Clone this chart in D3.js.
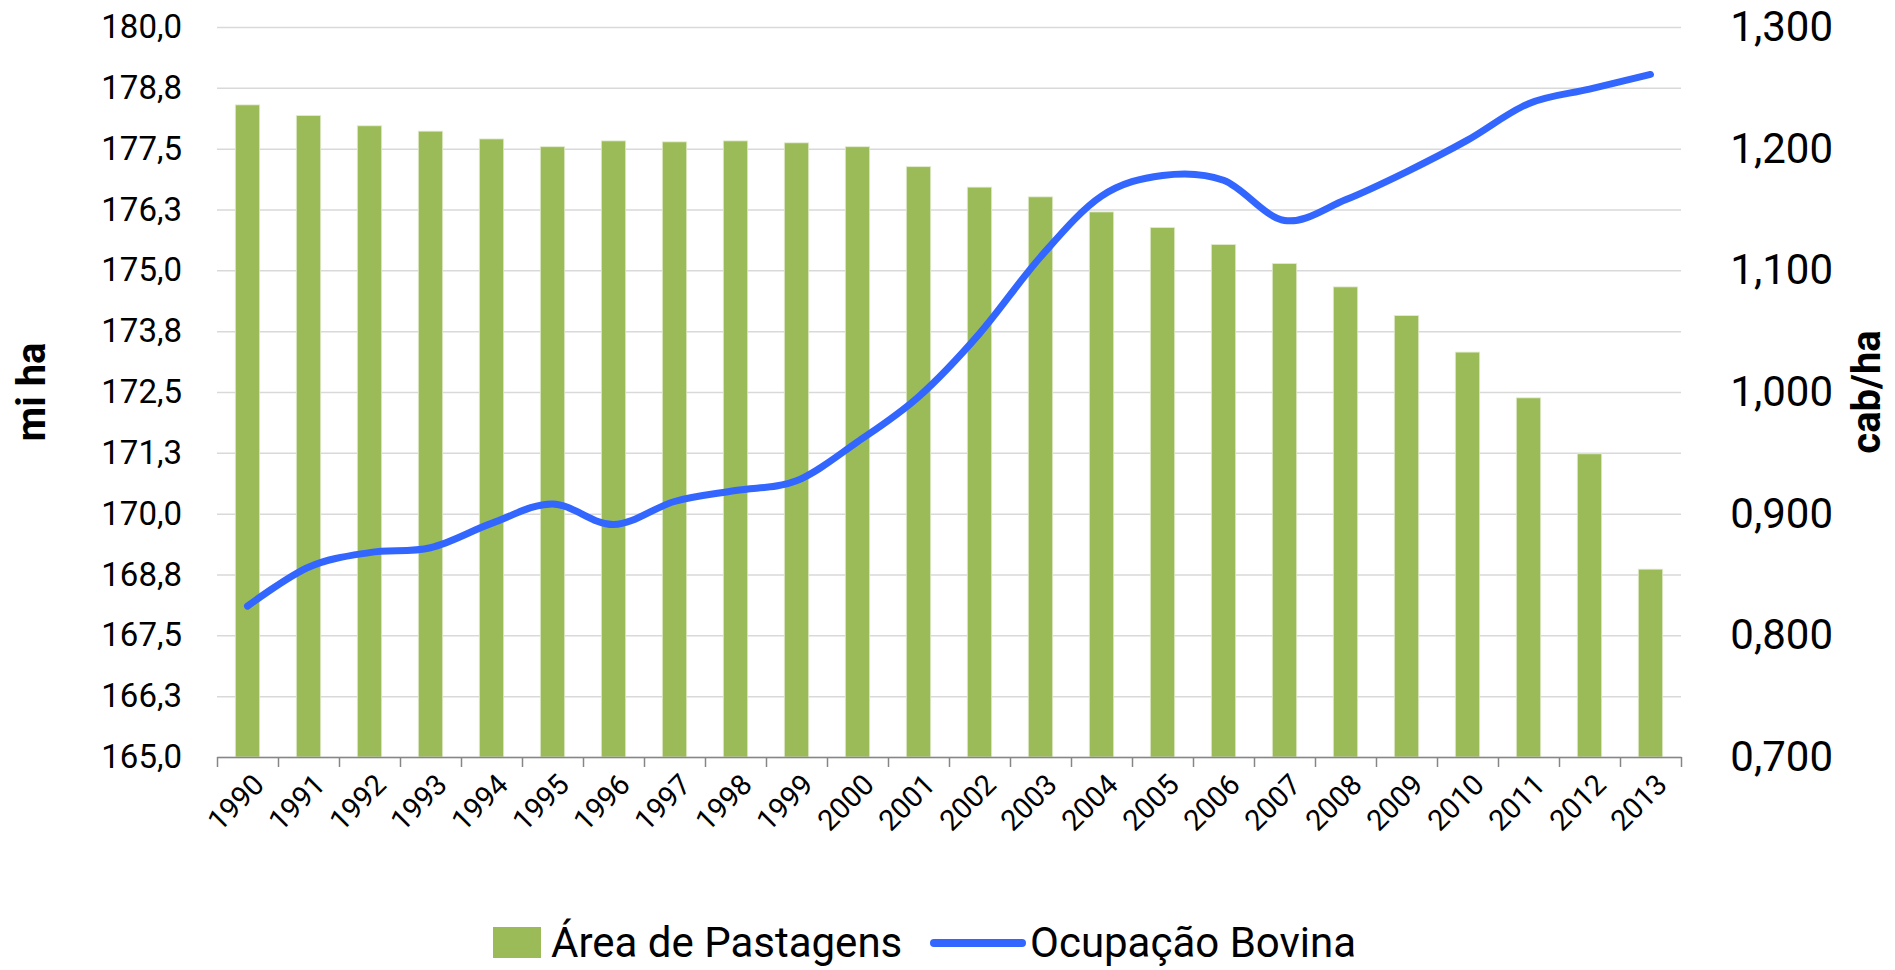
<!DOCTYPE html>
<html lang="pt">
<head>
  <meta charset="UTF-8">
  <title>Área de Pastagens e Ocupação Bovina</title>
  <script src="https://cdn.jsdelivr.net/npm/d3@7"></script>
  <style>
    body {
      margin: 0;
      background-color: #fff;
      font-family: Roboto, "Open Sans", sans-serif;
    }
    .grid line {
      stroke: #d9d9d9;
      stroke-width: 1.5;
    }
    .tick-label {
      fill: #000;
    }
  </style>
</head>
<body>
  <div id="chart"></div>
  <script>
    // Data
    const years = ["1990", "1991", "1992", "1993", "1994", "1995", "1996", "1997", "1998", "1999", "2000", "2001",
                   "2002", "2003", "2004", "2005", "2006", "2007", "2008", "2009", "2010", "2011", "2012", "2013"];
    const areaPastagens = [178.40, 178.18, 177.97, 177.86, 177.70, 177.54, 177.66, 177.64, 177.66, 177.62, 177.54, 177.13,
                           176.71, 176.51, 176.20, 175.88, 175.53, 175.14, 174.66, 174.07, 173.32, 172.38, 171.23, 168.86];
    const ocupacaoBovina = [0.824, 0.856, 0.868, 0.872, 0.892, 0.908, 0.891, 0.910, 0.919, 0.927, 0.959, 0.996,
                            1.048, 1.111, 1.161, 1.178, 1.174, 1.141, 1.158, 1.181, 1.207, 1.237, 1.249, 1.261];
    const leftTicks = [165, 166.25, 167.5, 168.75, 170, 171.25, 172.5, 173.75, 175, 176.25, 177.5, 178.75, 180];
    const leftTickLabels = ["165,0", "166,3", "167,5", "168,8", "170,0", "171,3", "172,5", "173,8", "175,0", "176,3", "177,5", "178,8", "180,0"];
    const rightTicks = [0.7, 0.8, 0.9, 1.0, 1.1, 1.2, 1.3];
    const rightTickLabels = ["0,700", "0,800", "0,900", "1,000", "1,100", "1,200", "1,300"];
    const seriesNames = ["Área de Pastagens", "Ocupação Bovina"];

    const W = 1895, H = 970;
    const plot = { left: 217, right: 1681, top: 27, bottom: 757 };
    const barColor = "#9bbb59";
    const lineColor = "#3366ff";

    const svg = d3.select("#chart")
      .append("svg")
      .attr("width", W)
      .attr("height", H);

    const x = d3.scaleBand()
      .domain(years)
      .range([plot.left, plot.right])
      .paddingInner(0.6)
      .paddingOuter(0.3);

    const yLeft = d3.scaleLinear()
      .domain([165, 180])
      .range([plot.bottom, plot.top]);

    const yRight = d3.scaleLinear()
      .domain([0.7, 1.3])
      .range([plot.bottom, plot.top]);

    // gridlines
    svg.append("g")
      .attr("class", "grid")
      .attr("transform", `translate(${plot.left},0)`)
      .call(d3.axisLeft(yLeft).tickValues(leftTicks).tickSize(-(plot.right - plot.left)).tickFormat(""))
      .call(g => g.select(".domain").remove());

    // left axis labels
    svg.append("g")
      .attr("transform", `translate(182,0)`)
      .call(d3.axisLeft(yLeft).tickValues(leftTicks).tickSize(0).tickPadding(0)
        .tickFormat((d, i) => leftTickLabels[i]))
      .call(g => g.select(".domain").remove())
      .call(g => g.selectAll("text")
        .attr("class", "tick-label")
        .style("font-family", "Roboto")
        .style("font-size", "33px"));

    // right axis labels
    svg.append("g")
      .attr("transform", `translate(1833,0)`)
      .call(d3.axisLeft(yRight).tickValues(rightTicks).tickSize(0).tickPadding(0)
        .tickFormat((d, i) => rightTickLabels[i]))
      .call(g => g.select(".domain").remove())
      .call(g => g.selectAll("text")
        .attr("class", "tick-label")
        .style("font-family", "Roboto")
        .style("font-size", "42px"));

    // bars
    svg.append("g")
      .selectAll("rect")
      .data(areaPastagens)
      .enter()
      .append("rect")
      .attr("x", (d, i) => x(years[i]))
      .attr("width", x.bandwidth())
      .attr("y", d => yLeft(d))
      .attr("height", d => yLeft(165) - yLeft(d))
      .attr("fill", barColor)
      .attr("stroke", "#e3ecd0")
      .attr("stroke-width", 0.8);

    // bottom axis with boundary ticks
    const xEdges = d3.scaleLinear().domain([0, years.length]).range([plot.left, plot.right]);
    svg.append("g")
      .attr("transform", `translate(0,${plot.bottom})`)
      .call(d3.axisBottom(xEdges).tickValues(d3.range(years.length + 1)).tickSize(10).tickSizeOuter(0).tickFormat(""))
      .call(g => g.select(".domain").attr("stroke", "#868686").attr("stroke-width", 1.5))
      .call(g => g.selectAll(".tick line").attr("stroke", "#868686").attr("stroke-width", 1.5));

    // year labels
    svg.append("g")
      .selectAll("text")
      .data(years)
      .enter()
      .append("text")
      .attr("transform", d => `translate(${x(d) + x.bandwidth() / 2 + 4},${plot.bottom + 15}) rotate(-45)`)
      .attr("text-anchor", "end")
      .attr("dy", "0.7em")
      .style("font-size", "29px")
      .text(d => d);

    // line
    const line = d3.line()
      .x((d, i) => x(years[i]) + x.bandwidth() / 2)
      .y(d => yRight(d))
      .curve(d3.curveCatmullRom.alpha(0));

    svg.append("path")
      .datum(ocupacaoBovina)
      .attr("d", line)
      .attr("fill", "none")
      .attr("stroke", lineColor)
      .attr("stroke-width", 7)
      .attr("stroke-linecap", "round")
      .attr("stroke-linejoin", "round");

    // axis titles
    svg.append("text")
      .attr("transform", `translate(45,${(plot.top + plot.bottom) / 2}) rotate(-90)`)
      .attr("text-anchor", "middle")
      .style("font-size", "40px")
      .style("font-weight", "bold")
      .text("mi ha");

    svg.append("text")
      .attr("transform", `translate(1880,${(plot.top + plot.bottom) / 2}) rotate(-90)`)
      .attr("text-anchor", "middle")
      .style("font-size", "40px")
      .style("font-weight", "bold")
      .text("cab/ha");

    // legend
    const legend = svg.append("g");
    legend.append("rect")
      .attr("x", 493).attr("y", 927)
      .attr("width", 48).attr("height", 31)
      .attr("fill", barColor);
    legend.append("text")
      .attr("x", 551).attr("y", 957)
      .style("font-size", "42px")
      .text(seriesNames[0]);
    legend.append("line")
      .attr("x1", 934).attr("x2", 1022)
      .attr("y1", 943).attr("y2", 943)
      .attr("stroke", lineColor)
      .attr("stroke-width", 8)
      .attr("stroke-linecap", "round");
    legend.append("text")
      .attr("x", 1030).attr("y", 957)
      .style("font-size", "42px")
      .text(seriesNames[1]);
  </script>
</body>
</html>
